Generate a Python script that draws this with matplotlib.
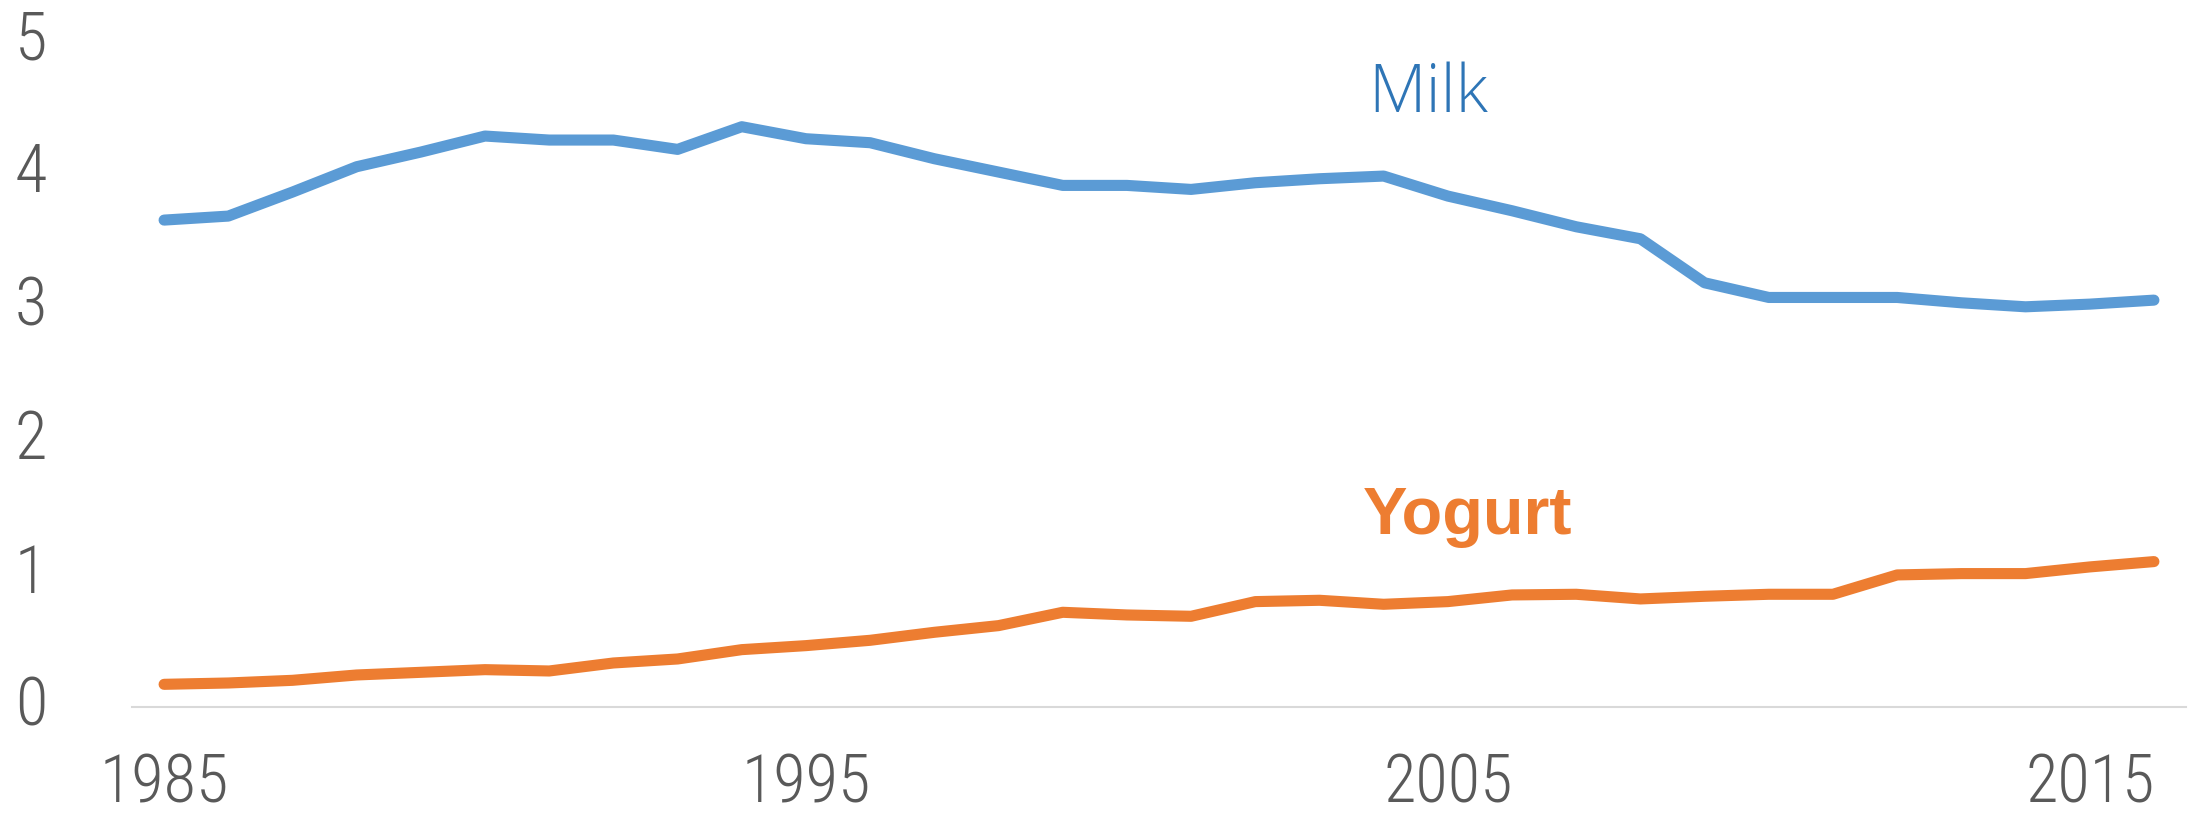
import numpy as np
import matplotlib
matplotlib.use("Agg")
import matplotlib.pyplot as plt
from matplotlib import font_manager
from matplotlib.transforms import ScaledTranslation

# datos
years = list(range(1985, 2017))
milk = [3.65, 3.68, 3.86, 4.05, 4.16, 4.28, 4.25, 4.25, 4.18, 4.35,
        4.26, 4.23, 4.11, 4.01, 3.91, 3.91, 3.88, 3.93, 3.96, 3.98,
        3.83, 3.72, 3.60, 3.51, 3.18, 3.07, 3.07, 3.07, 3.03, 3.00,
        3.02, 3.05]
yogurt = [0.17, 0.18, 0.20, 0.24, 0.26, 0.28, 0.27, 0.33, 0.36, 0.43,
          0.46, 0.50, 0.56, 0.61, 0.71, 0.69, 0.68, 0.79, 0.80, 0.77,
          0.79, 0.84, 0.845, 0.81, 0.83, 0.845, 0.845, 0.99, 1.00, 1.00,
          1.05, 1.09]
xticks = [1985, 1995, 2005, 2015]
yticks = [0, 1, 2, 3, 4, 5]

# fuentes estrechas si estan instaladas
nombres = set(f.name for f in font_manager.fontManager.ttflist)
tick_font = [n for n in ['Roboto Condensed', 'Liberation Sans Narrow', 'Noto Sans CJK JP', 'Liberation Sans']
             if n in nombres]
tick_font = tick_font[:1] + ['DejaVu Sans']

fig = plt.figure(figsize=(21.91, 8.17), dpi=100)
ax = fig.add_axes([132 / 2191, 110 / 817, (2186 - 132) / 2191, (707 - 40) / 817])

ax.plot(years, milk, color='#5B9BD5', lw=8, solid_capstyle='round', solid_joinstyle='round')
ax.plot(years, yogurt, color='#ED7D31', lw=8, solid_capstyle='round', solid_joinstyle='round')

ax.set_xlim(1984.5, 2016.5)
ax.set_ylim(0, 5)
ax.set_xticks(xticks)
ax.set_yticks(yticks)
ax.set_xticklabels([str(t) for t in xticks], family=tick_font, fontsize=48,
                   fontweight='light', color='#595959')
ax.set_yticklabels([str(t) for t in yticks], family=tick_font, fontsize=48,
                   fontweight='light', color='#595959')
ax.tick_params(axis='both', length=0)
ax.tick_params(axis='x', pad=33)
ax.tick_params(axis='y', pad=61)
# etiquetas del eje y un poco mas arriba
desp = ScaledTranslation(0, 6 / 100, fig.dpi_scale_trans)
for lab in ax.get_yticklabels():
    lab.set_transform(lab.get_transform() + desp)

for s in ['top', 'right', 'left']:
    ax.spines[s].set_visible(False)
ax.spines['bottom'].set_color('#D9D9D9')
ax.spines['bottom'].set_linewidth(1.5)

ax.text(2004.69, 4.46, 'Milk', color='#2E75B6', fontsize=48, ha='center', va='baseline',
        fontweight='light', family=['Open Sans', 'DejaVu Sans'])
ax.text(2005.3, 1.30, 'Yogurt', color='#ED7D31', fontsize=48, ha='center', va='baseline',
        fontweight='bold', family=['Liberation Sans', 'DejaVu Sans'])

fig.savefig('out.png', dpi=100)
